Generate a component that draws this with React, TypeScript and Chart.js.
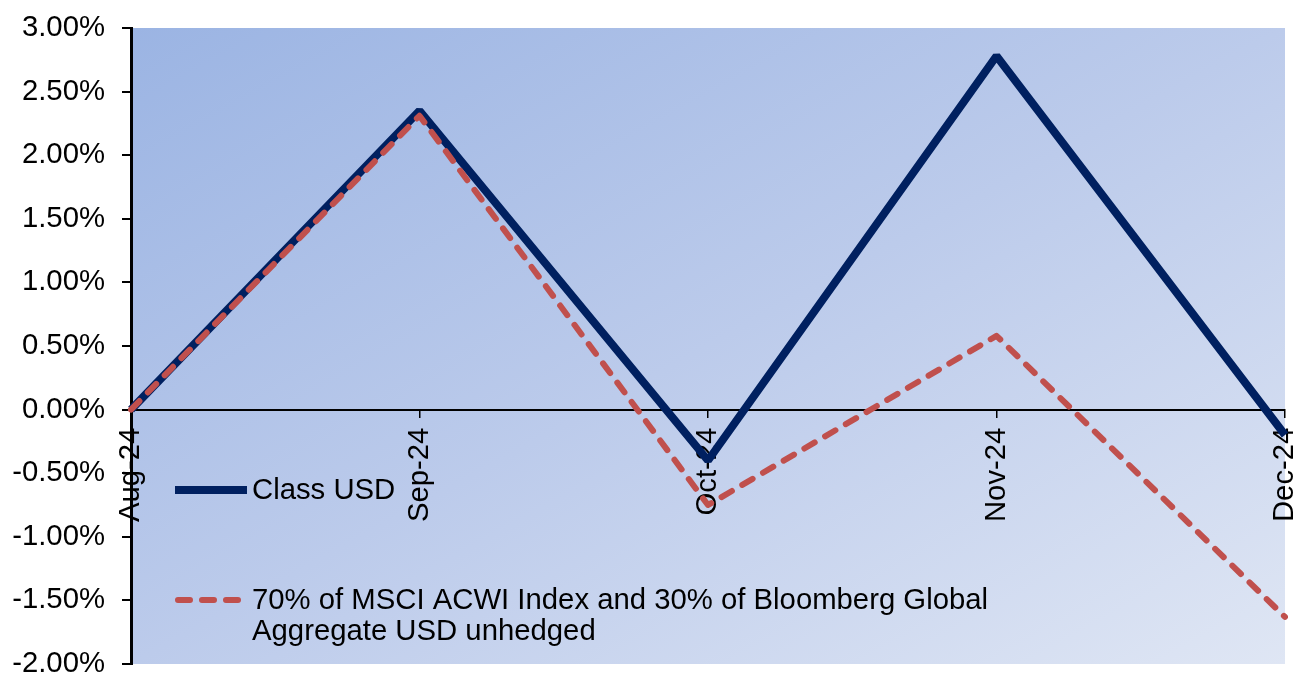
import React, { useEffect, useRef } from "react";
import { Chart, registerables } from "chart.js";

Chart.register(...registerables);

// Monthly cumulative performance (%)
const months = ["Aug-24", "Sep-24", "Oct-24", "Nov-24", "Dec-24"];
const classUsd = [0, 2.35, -0.4, 2.78, -0.2];
const benchmark = [0, 2.31, -0.75, 0.58, -1.63];
const classUsdLabel = "Class USD";
const benchmarkLabel = [
  "70% of MSCI ACWI Index and 30% of Bloomberg Global",
  "Aggregate USD unhedged",
];
const yTicks = [3, 2.5, 2, 1.5, 1, 0.5, 0, -0.5, -1, -1.5, -2];

const NAVY = "#002060";
const RED = "#C0504D";
const FONT = "'Liberation Sans', Arial, sans-serif";
const FONT_SIZE = 29.3;

// Diagonal blue wash behind the plot area
const backgroundPlugin = {
  id: "plotBackground",
  beforeDraw(chart: any) {
    const { ctx, chartArea } = chart;
    const { left, top, right, bottom } = chartArea;
    const W = right - left;
    const H = bottom - top;
    const k = (2 * W * H) / (W * W + H * H);
    const g = ctx.createLinearGradient(left, top, left + k * H, top + k * W);
    g.addColorStop(0, "#9bb4e3");
    g.addColorStop(0.5, "#bccbeb");
    g.addColorStop(1, "#dfe6f4");
    ctx.save();
    ctx.fillStyle = g;
    ctx.fillRect(left, top, W, H);
    ctx.restore();
  },
};

// Legend drawn inside the plot area, lower left
const innerLegendPlugin = {
  id: "innerLegend",
  afterDatasetsDraw(chart: any) {
    const { ctx, chartArea } = chart;
    const x0 = chartArea.left + 44;
    const x1 = chartArea.left + 116;
    const tx = chartArea.left + 121;
    ctx.save();
    ctx.font = `${FONT_SIZE}px ${FONT}`;
    ctx.fillStyle = "#000";
    ctx.textBaseline = "middle";
    ctx.textAlign = "left";

    // Class USD
    const y1 = 490;
    ctx.strokeStyle = NAVY;
    ctx.lineWidth = 8;
    ctx.lineCap = "butt";
    ctx.setLineDash([]);
    ctx.beginPath();
    ctx.moveTo(x0, y1);
    ctx.lineTo(x1, y1);
    ctx.stroke();
    ctx.fillText(classUsdLabel, tx, y1 + 1);

    // Benchmark
    const y2 = 600;
    ctx.strokeStyle = RED;
    ctx.lineWidth = 6;
    ctx.lineCap = "round";
    ctx.setLineDash([12, 12]);
    ctx.beginPath();
    ctx.moveTo(x0 + 3, y2);
    ctx.lineTo(x1 - 6, y2);
    ctx.stroke();
    ctx.setLineDash([]);
    benchmarkLabel.forEach((line, i) => {
      ctx.fillText(line, tx, y2 + 1 + i * 31);
    });
    ctx.restore();
  },
};

export default function App() {
  const canvasRef = useRef<HTMLCanvasElement | null>(null);

  useEffect(() => {
    const canvas = canvasRef.current;
    if (!canvas) return;
    const chart = new Chart(canvas, {
      type: "line",
      data: {
        labels: months,
        datasets: [
          {
            label: classUsdLabel,
            data: classUsd,
            borderColor: NAVY,
            borderWidth: 8,
            borderJoinStyle: "bevel",
            pointRadius: 0,
            tension: 0,
            order: 2,
          },
          {
            label: benchmarkLabel.join(" "),
            data: benchmark,
            borderColor: RED,
            borderWidth: 6,
            borderDash: [12, 12],
            borderCapStyle: "round",
            borderJoinStyle: "round",
            pointRadius: 0,
            tension: 0,
            order: 1,
          },
        ],
      },
      options: {
        animation: false,
        responsive: false,
        maintainAspectRatio: false,
        layout: { padding: { top: 28, bottom: 11, right: 10, left: 0 } },
        plugins: {
          legend: { display: false },
          tooltip: { enabled: false },
        },
        scales: {
          x: {
            type: "category",
            offset: false,
            position: { y: 0 },
            afterFit(scale: any) {
              scale.paddingLeft = 0;
              scale.paddingRight = 0;
              scale.paddingTop = 0;
              scale.paddingBottom = 0;
            },
            grid: {
              drawOnChartArea: false,
              drawTicks: true,
              tickLength: 7,
              color: "#000",
              lineWidth: 1.5,
            },
            border: { display: true, color: "#000", width: 2 },
            ticks: {
              color: "#000",
              font: { family: FONT, size: FONT_SIZE },
              minRotation: 90,
              maxRotation: 90,
              padding: 11,
              autoSkip: false,
            },
          },
          y: {
            min: -2,
            max: 3,
            afterFit(scale: any) {
              scale.width = 131;
              scale.paddingTop = 0;
              scale.paddingBottom = 0;
            },
            afterBuildTicks(scale: any) {
              scale.ticks = yTicks.map((v) => ({ value: v }));
            },
            grid: {
              drawOnChartArea: false,
              drawTicks: true,
              tickLength: 9,
              color: "#000",
              lineWidth: 2,
            },
            border: { display: true, color: "#000", width: 3 },
            ticks: {
              color: "#000",
              font: { family: FONT, size: FONT_SIZE },
              padding: 17,
              callback: (v: any) => `${Number(v).toFixed(2)}%`,
            },
          },
        },
      },
      plugins: [backgroundPlugin, innerLegendPlugin],
    });
    return () => chart.destroy();
  }, []);

  return (
    <div style={{ position: "fixed", left: 0, top: 0, width: 1295, height: 675, background: "#fff" }}>
      <canvas ref={canvasRef} width={1295} height={675} style={{ width: 1295, height: 675 }} />
    </div>
  );
}
